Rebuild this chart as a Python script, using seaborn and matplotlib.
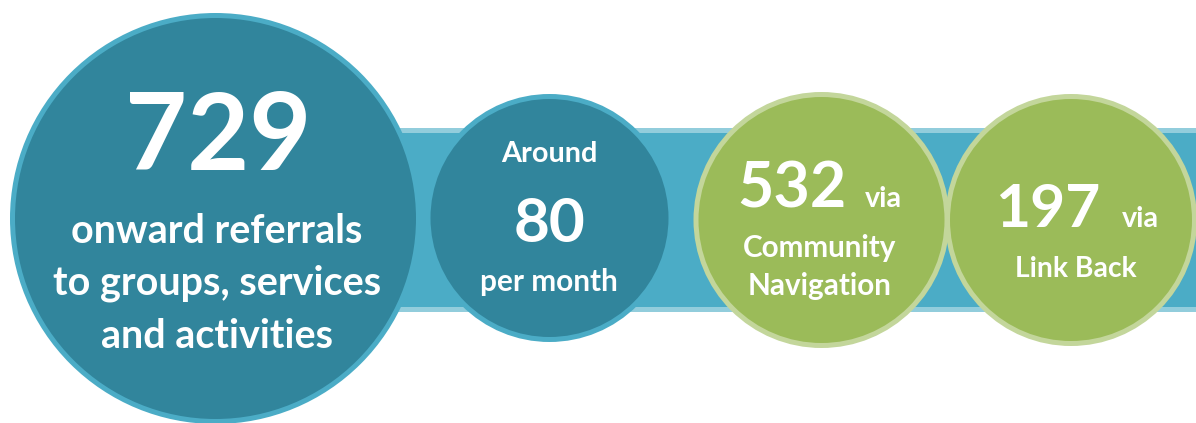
import matplotlib
matplotlib.use("Agg")
import matplotlib.pyplot as plt
from matplotlib.patches import Circle, Rectangle
import seaborn as sns

sns.set_theme(style="white")
plt.rcParams["font.family"] = ["Lato", "DejaVu Sans"]

# ---- content ----
headline_numbers = ["729", "80", "532", "197"]
big_caption = ["onward referrals", "to groups, services", "and activities"]
monthly_prefix = "Around"
monthly_suffix = "per month"
split_suffix = "via"
split_channels = [["Community", "Navigation"], ["Link Back"]]

# ---- colours ----
TEAL_DARK = "#31859C"
TEAL = "#4BACC6"
TEAL_LIGHT = "#92CDDC"
GREEN = "#9BBB59"
GREEN_LIGHT = "#C3D69B"

W, H = 1196, 423
fig = plt.figure(figsize=(W / 100, H / 100), dpi=100)
ax = fig.add_axes([0, 0, 1, 1])
ax.set_xlim(0, W)
ax.set_ylim(H, 0)
ax.axis("off")
renderer = fig.canvas.get_renderer()

# connecting band
ax.add_patch(Rectangle((380, 128), W - 380 + 5, 184, facecolor=TEAL_LIGHT, edgecolor="none", zorder=1))
ax.add_patch(Rectangle((380, 133), W - 380 + 5, 174, facecolor=TEAL, edgecolor="none", zorder=1))

lw = 3.6  # ~5 px
def circ(cx, cy, r_outer, fc, ec, z):
    ax.add_patch(Circle((cx, cy), r_outer - 2.5, facecolor=fc, edgecolor=ec, linewidth=lw, zorder=z))

circ(215.5, 218.5, 205.5, TEAL_DARK, TEAL, 2)
circ(549.5, 218, 124, TEAL_DARK, TEAL, 2)
circ(821.5, 220, 128, GREEN, GREEN_LIGHT, 3)
circ(1071, 220, 126, GREEN, GREEN_LIGHT, 4)


def size_for(s, width):
    t = ax.text(0, 0, s, fontsize=10, fontweight="bold")
    w = t.get_window_extent(renderer).width
    t.remove()
    return 10 * width / w


def put(s, x, y, fs, ha="center"):
    ax.text(x, y, s, fontsize=fs, fontweight="bold", color="white",
            ha=ha, va="baseline", zorder=10)


# big circle
put(headline_numbers[0], 218, 170, size_for(headline_numbers[0], 187))
cap_fs = size_for(big_caption[1], 329)
for line, y in zip(big_caption, [243, 295, 348]):
    put(line, 217, y, cap_fs)

# monthly circle
put(monthly_prefix, 549, 162, size_for(monthly_prefix, 97))
put(headline_numbers[1], 549, 242, size_for(headline_numbers[1], 72))
put(monthly_suffix, 549, 291, size_for(monthly_suffix, 138))

# Community Navigation circle
put(headline_numbers[2], 847, 207, size_for(headline_numbers[2], 109), ha="right")
via_fs = size_for(split_suffix, 37)
put(split_suffix, 865, 207, via_fs, ha="left")
small_fs = size_for(split_channels[0][0], 154)
put(split_channels[0][0], 820, 257, small_fs)
put(split_channels[0][1], 820, 295, small_fs)

# Link Back circle
put(headline_numbers[3], 1100, 227, size_for(headline_numbers[3], 105), ha="right")
put(split_suffix, 1122, 227, via_fs, ha="left")
put(split_channels[1][0], 1076, 277, size_for(split_channels[1][0], 122))

fig.savefig("out.png", dpi=100, facecolor="white")
